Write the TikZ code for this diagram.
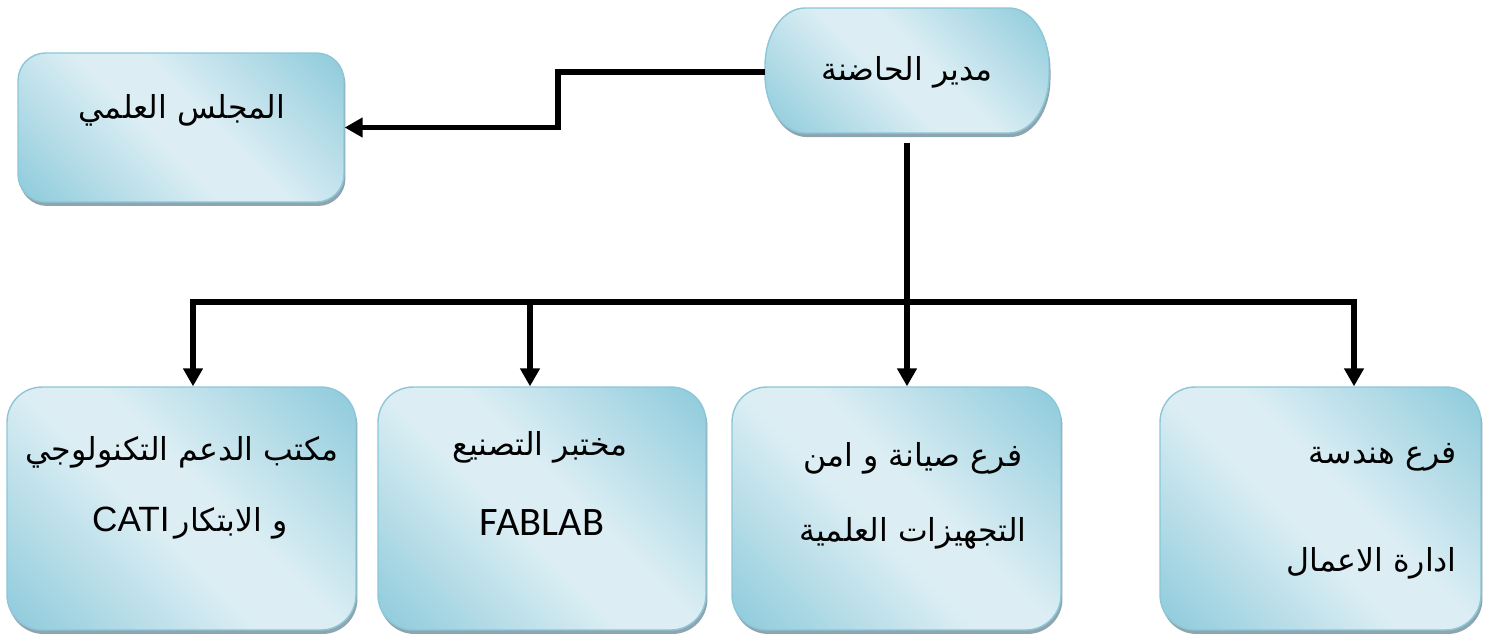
\documentclass[tikz,border=0pt]{standalone}
\usepackage{fontspec}
\usetikzlibrary{positioning,calc,arrows.meta,shadows}
\newfontfamily\arabicfont[Script=Arabic]{DejaVu Sans}
\newfontfamily\latinfont{Carlito}
\newfontfamily\arialfont{Liberation Sans}
\TeXXeTstate=1
\definecolor{boxdark}{HTML}{93CDDD}
\definecolor{boxlight}{HTML}{DCEEF4}
\definecolor{boxline}{HTML}{8CC6D7}
\definecolor{boxshadow}{HTML}{8EA5B0}
\pgfdeclareverticalshading{unitshade}{100bp}{color(0bp)=(boxdark); color(17bp)=(boxdark);
  color(45bp)=(boxlight); color(55bp)=(boxlight); color(83bp)=(boxdark); color(100bp)=(boxdark)}
\tikzset{
  unitbox/.style={draw=boxline, line width=0.8pt, inner sep=0pt,
    shading=unitshade, shading angle=-45,
    drop shadow={shadow xshift=0.03cm, shadow yshift=-0.08cm, fill=boxshadow, opacity=1}},
  conn/.style={line width=3.4pt, -{Triangle[width=0.38cm,length=0.36cm]}},
  bus/.style={line width=3.4pt, line cap=rect},
  artext/.style={font=\arabicfont\fontsize{18}{22}\selectfont, inner sep=0pt},
}

\begin{document}
\begin{tikzpicture}[x=0.02cm, y=-0.02cm]
        \useasboundingbox (0,0) rectangle (1495,637);
        % Head (elliptic ends) and council
        \path[unitbox] (805,8) -- (1009,8) arc[start angle=-90, end angle=0, x radius=40, y radius=58]
          -- (1049,75) arc[start angle=0, end angle=90, x radius=40, y radius=58]
          -- (805,133) arc[start angle=90, end angle=180, x radius=40, y radius=58]
          -- (765,66) arc[start angle=180, end angle=270, x radius=40, y radius=58] -- cycle;
        \node[artext, minimum width=5.68cm, minimum height=2.5cm] (head) at (907,72) {\beginR مدير الحاضنة\endR};
        \node[unitbox, rounded corners=0.55cm, minimum width=6.52cm, minimum height=2.98cm] (council) at (181,127.5) {};
        \node[artext] (counciltxt) at (182,110) {\beginR المجلس العلمي\endR};

        % Units
        \node[unitbox, rounded corners=0.7cm, minimum width=6.98cm, minimum height=4.86cm] (cati) at (181.5,508.5) {};
        \node[unitbox, rounded corners=0.7cm, minimum width=6.56cm, minimum height=4.86cm] (fablab) at (542,508.5) {};
        \node[unitbox, rounded corners=0.7cm, minimum width=6.58cm, minimum height=4.86cm] (maint) at (896.5,508.5) {};
        \node[unitbox, rounded corners=0.7cm, minimum width=6.42cm, minimum height=4.86cm] (biz) at (1320.5,508.5) {};

        \node[artext] (cati1) at (182,452) {\beginR مكتب الدعم التكنولوجي\endR};
        \node[artext] (cati2) at (190,523) {\beginR و الابتكار\,\beginL{\arialfont\fontsize{20}{24}\selectfont CATI}\endL\endR};
        \node[artext] (fablab1) at (540,447) {\beginR مختبر التصنيع\endR};
        \node[artext, font=\latinfont\fontsize{23}{27}\selectfont] (fablab2) at (542,523) {FABLAB};
        \node[artext] (maint1) at (913,458) {\beginR فرع صيانة و امن\endR};
        \node[artext] (maint2) at (913,533) {\beginR التجهيزات العلمية\endR};
        \node[artext, anchor=east] (biz1) at (1457,457) {\beginR فرع هندسة\endR};
        \node[artext, anchor=east] (biz2) at (1457,563) {\beginR ادارة الاعمال\endR};

        % Connectors
        \draw[conn] (head.west) -- ++(-207,0) |- (council.east);
        \coordinate (d1) at (193,302);
        \coordinate (d2) at (530,302);
        \coordinate (d4) at (1354,302);
        \draw[bus] (d1) -- (d4);
        \draw[conn] ([yshift=-0.17cm]head.south) -- (head.south |- maint.north);
        \draw[conn] (d1) -- (d1 |- cati.north);
        \draw[conn] (d2) -- (d2 |- fablab.north);
        \draw[conn] (d4) -- (d4 |- biz.north);
\end{tikzpicture}
\end{document}
